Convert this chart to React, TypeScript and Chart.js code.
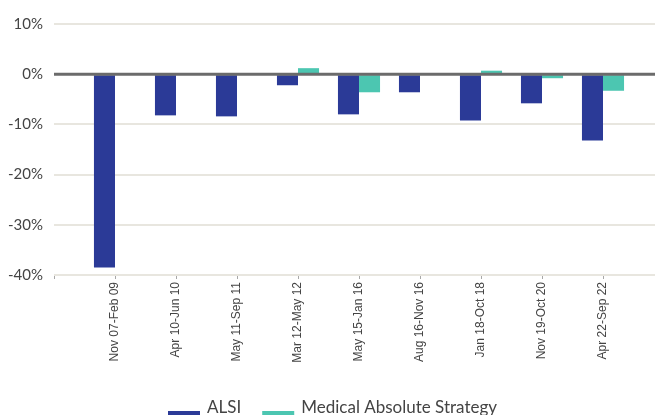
import React, { useEffect, useRef } from "react";
import { Chart, registerables } from "chart.js";

Chart.register(...registerables);

const categories = [
  "",
  "Nov 07-Feb 09",
  "Apr 10-Jun 10",
  "May 11-Sep 11",
  "Mar 12-May 12",
  "May 15-Jan 16",
  "Aug 16-Nov 16",
  "Jan 18-Oct 18",
  "Nov 19-Oct 20",
  "Apr 22-Sep 22",
  "",
];
const alsiValues = [null, -38.5, -8.2, -8.4, -2.2, -8.0, -3.6, -9.2, -5.8, -13.2, null];
const masValues = [null, 0.05, 0.1, 0.05, 1.2, -3.6, 0.1, 0.7, -0.8, -3.3, null];
const yTicks = [10, 0, -10, -20, -30, -40];

const ALSI_COLOR = "#2b3a97";
const MAS_COLOR = "#4cc6b1";

const zeroLinePlugin = {
  id: "zeroLine",
  afterDatasetsDraw(chart: any) {
    const { ctx, chartArea, scales } = chart;
    const y = scales.y.getPixelForValue(0);
    ctx.save();
    ctx.strokeStyle = "#6b6b6b";
    ctx.lineWidth = 3;
    ctx.beginPath();
    ctx.moveTo(chartArea.left, y);
    ctx.lineTo(chartArea.right, y);
    ctx.stroke();
    ctx.restore();
  },
};

const legendPlugin = {
  id: "customLegend",
  afterDraw(chart: any) {
    const { ctx } = chart;
    ctx.save();
    ctx.font = "17px Lato";
    ctx.textBaseline = "alphabetic";
    ctx.textAlign = "left";
    let x = 160;
    chart.data.datasets.forEach((ds: any) => {
      ctx.fillStyle = ds.backgroundColor;
      ctx.fillRect(x, 403, 32, 14);
      x += 32 + 7;
      ctx.fillStyle = "#444";
      ctx.fillText(ds.label, x, 405);
      x += ctx.measureText(ds.label).width + 21;
    });
    ctx.restore();
  },
};

export default function App() {
  const ref = useRef<HTMLCanvasElement | null>(null);
  useEffect(() => {
    if (!ref.current) return;
    const chart = new Chart(ref.current, {
      type: "bar",
      data: {
        labels: categories,
        datasets: [
          {
            label: "ALSI",
            data: alsiValues as any,
            backgroundColor: ALSI_COLOR,
            borderWidth: 0,
          },
          {
            label: "Medical Absolute Strategy",
            data: masValues as any,
            backgroundColor: MAS_COLOR,
            borderWidth: 0,
          },
        ],
      },
      options: {
        animation: false,
        responsive: false,
        maintainAspectRatio: false,
        layout: { padding: { top: 16, right: 8, left: 0, bottom: 0 } },
        plugins: {
          legend: { display: false },
          tooltip: { enabled: false },
        },
        datasets: {
          bar: { categoryPercentage: 0.69, barPercentage: 1 },
        },
        scales: {
          x: {
            type: "category",
            offset: false,
            grid: {
              offset: false,
              drawOnChartArea: false,
              drawTicks: true,
              tickLength: 4,
              color: "#a8a8a8",
              lineWidth: 1,
            },
            border: { display: false },
            ticks: {
              autoSkip: false,
              maxRotation: 90,
              minRotation: 90,
              padding: 3,
              color: "#444",
              font: { family: "Liberation Sans", size: 12 },
            },
            afterFit: (s: any) => {
              s.height = 153;
              s.paddingLeft = 0;
              s.paddingRight = 0;
            },
          },
          y: {
            min: -40,
            max: 10,
            afterBuildTicks: (s: any) => {
              s.ticks = yTicks.map((v) => ({ value: v }));
            },
            grid: {
              color: "#e8e6df",
              lineWidth: 2,
              drawTicks: false,
            },
            border: { display: false },
            ticks: {
              padding: 11,
              color: "#444",
              font: { family: "Lato", size: 15 },
              callback: (v: any) => `${v}%`,
            },
            afterFit: (s: any) => {
              s.width = 46;
              s.paddingTop = 0;
              s.paddingBottom = 0;
            },
          },
        },
      },
      plugins: [zeroLinePlugin, legendPlugin],
    });
    return () => chart.destroy();
  }, []);
  return (
    <div style={{ width: 655, height: 407, overflow: "hidden", position: "relative" }}>
      <canvas ref={ref} width={664} height={420} style={{ display: "block" }} />
    </div>
  );
}
